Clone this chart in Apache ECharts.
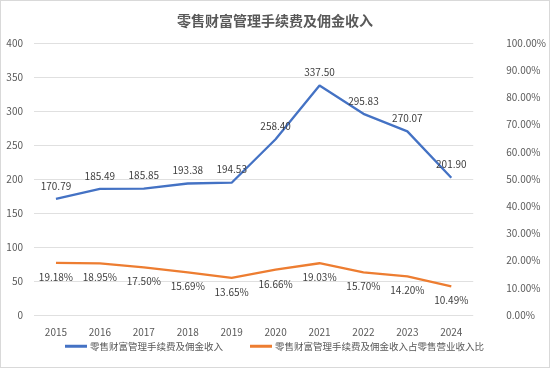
<!DOCTYPE html>
<html><head><meta charset="utf-8">
<script src="https://cdn.jsdelivr.net/npm/echarts@6/dist/echarts.min.js"></script>
<style>html,body{margin:0;padding:0;background:#fff}#c{width:550px;height:368px;box-sizing:border-box;border:1px solid #d9d9d9}</style>
</head><body><div id="c"></div>
<script>
const categories = ['2015','2016','2017','2018','2019','2020','2021','2022','2023','2024'];
const incomeValues = [170.79,185.49,185.85,193.38,194.53,258.40,337.50,295.83,270.07,201.90];
const ratioValues = [19.18,18.95,17.50,15.69,13.65,16.66,19.03,15.70,14.20,10.49];
const leftTicks = {min:0,max:400,interval:50};
const rightTicks = {min:0,max:100,interval:10};
const title = '零售财富管理手续费及佣金收入';
const seriesNames = ['零售财富管理手续费及佣金收入','零售财富管理手续费及佣金收入占零售营业收入比'];

const font = '"Noto Sans CJK SC", "Noto Sans", sans-serif';
const chart = echarts.init(document.getElementById('c'));
chart.setOption({
  animation:false,
  textStyle:{fontFamily:font},
  title:{text:title,left:'center',top:8,textStyle:{fontSize:14,fontWeight:'bold',color:'#595959',fontFamily:font}},
  grid:{left:33,right:75,top:42,bottom:52},
  legend:{bottom:11,left:59,width:500,itemWidth:22,itemHeight:3,itemGap:27,icon:'rect',
    textStyle:{fontSize:9.5,color:'#595959',fontFamily:font,padding:[0,0,0,-2]},data:seriesNames},
  xAxis:{type:'category',data:categories,boundaryGap:true,
    axisLine:{show:false},axisTick:{show:false},
    axisLabel:{color:'#595959',fontSize:10,margin:12,fontFamily:font}},
  yAxis:[
    {type:'value',min:leftTicks.min,max:leftTicks.max,interval:leftTicks.interval,
     axisLine:{show:false},axisTick:{show:false},
     splitLine:{lineStyle:{color:'#e0e0e0'}},
     axisLabel:{color:'#595959',fontSize:10,margin:11,fontFamily:font}},
    {type:'value',min:rightTicks.min,max:rightTicks.max,interval:rightTicks.interval,
     axisLine:{show:false},axisTick:{show:false},splitLine:{show:false},
     axisLabel:{color:'#595959',fontSize:10,margin:33,fontFamily:font,
       formatter:v=>v.toFixed(2)+'%'}}
  ],
  series:[
    {name:seriesNames[0],type:'line',yAxisIndex:0,data:incomeValues,
     symbol:'circle',symbolSize:0.1,showSymbol:true,
     lineStyle:{color:'#4472C4',width:2.3},itemStyle:{color:'#4472C4'},
     label:{show:true,position:'top',distance:8,color:'#404040',fontSize:10,fontFamily:font,
       formatter:p=>p.value.toFixed(2)}},
    {name:seriesNames[1],type:'line',yAxisIndex:1,data:ratioValues,
     symbol:'circle',symbolSize:0.1,showSymbol:true,
     lineStyle:{color:'#ED7D31',width:2.3},itemStyle:{color:'#ED7D31'},
     label:{show:true,position:'bottom',distance:9,color:'#404040',fontSize:10,fontFamily:font,
       formatter:p=>p.value.toFixed(2)+'%'}}
  ]
});
</script></body></html>
